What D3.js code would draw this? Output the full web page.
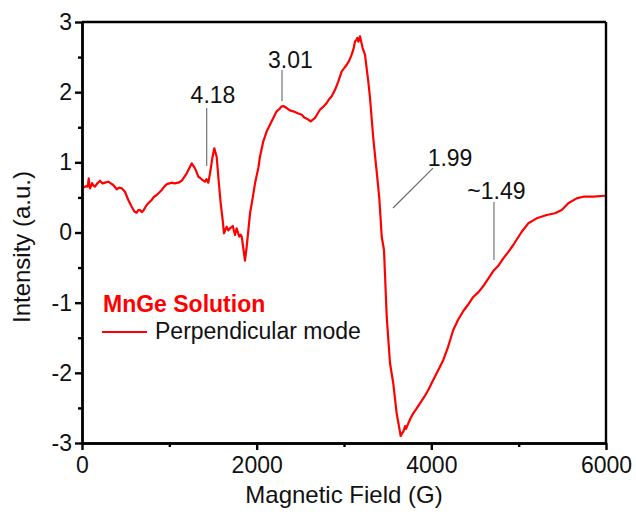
<!DOCTYPE html>
<html>
<head>
<meta charset="utf-8">
<script src="https://cdn.jsdelivr.net/npm/d3@7"></script>
<style>
  html, body { margin: 0; padding: 0; background: #fff; }
  svg { display: block; font-family: "Liberation Sans", Arial, sans-serif; }
</style>
</head>
<body>
<svg id="chart" width="636" height="516"></svg>
<script>
// EPR spectrum, MnGe solution, perpendicular mode
const fieldG = [
  5, 23, 45, 61, 70, 77, 84, 92, 115, 130, 149, 175, 206, 235, 263, 301, 330, 358, 397, 425,
  455, 492, 530, 569, 600, 626, 645, 664, 685, 702, 741, 770, 798, 825, 855, 885, 913, 940, 970, 1000,
  1027, 1060, 1103, 1142, 1170, 1199, 1230, 1256, 1275, 1294, 1332, 1350, 1371, 1390, 1408, 1425, 1446, 1466, 1492, 1515,
  1542, 1561, 1588, 1611, 1626, 1657, 1675, 1695, 1726, 1752, 1771, 1801, 1815, 1829, 1855, 1866, 1886, 1924, 1961, 1981,
  2019, 2038, 2076, 2115, 2172, 2229, 2260, 2287, 2310, 2344, 2380, 2419, 2470, 2516, 2545, 2573, 2619, 2668, 2700, 2725,
  2760, 2802, 2830, 2859, 2900, 2935, 2974, 3000, 3031, 3060, 3088, 3110, 3126, 3140, 3152, 3165, 3183, 3200, 3214, 3240,
  3278, 3298, 3335, 3374, 3404, 3432, 3458, 3489, 3527, 3564, 3603, 3649, 3665, 3679, 3700, 3710, 3736, 3765, 3793, 3830,
  3870, 3920, 3965, 4010, 4061, 4100, 4137, 4191, 4251, 4305, 4366, 4420, 4480, 4540, 4595, 4650, 4709, 4770, 4824, 4880,
  4938, 5035, 5110, 5206, 5321, 5416, 5493, 5568, 5664, 5740, 5855, 5988, 6000
];
const intensity = [
  0.65, 0.644, 0.66, 0.653, 0.70, 0.772, 0.66, 0.630, 0.705, 0.67, 0.653, 0.70, 0.738, 0.70, 0.710, 0.724, 0.70, 0.677, 0.616, 0.64,
  0.630, 0.581, 0.463, 0.368, 0.30, 0.282, 0.32, 0.321, 0.29, 0.311, 0.392, 0.43, 0.463, 0.51, 0.534, 0.57, 0.606, 0.65, 0.687, 0.70,
  0.710, 0.70, 0.710, 0.738, 0.79, 0.844, 0.92, 0.986, 0.95, 0.915, 0.795, 0.78, 0.758, 0.74, 0.724, 0.76, 0.710, 0.844, 1.057, 1.200,
  1.080, 0.795, 0.416, 0.178, -0.011, 0.083, 0.03, 0.060, 0.093, -0.036, 0.060, -0.060, -0.03, -0.060, -0.296, -0.402, -0.202, 0.274, 0.539, 0.701,
  0.919, 1.080, 1.300, 1.442, 1.585, 1.727, 1.76, 1.798, 1.80, 1.774, 1.74, 1.727, 1.70, 1.679, 1.64, 1.622, 1.585, 1.632, 1.70, 1.750,
  1.79, 1.846, 1.90, 1.941, 2.04, 2.155, 2.297, 2.34, 2.391, 2.45, 2.534, 2.62, 2.725, 2.74, 2.772, 2.72, 2.796, 2.70, 2.629, 2.534,
  2.155, 1.917, 1.347, 0.872, 0.492, -0.060, -0.249, -1.200, -1.864, -2.149, -2.577, -2.900, -2.86, -2.839, -2.76, -2.80, -2.719, -2.64, -2.577, -2.51,
  -2.434, -2.34, -2.245, -2.13, -2.007, -1.91, -1.817, -1.632, -1.389, -1.247, -1.119, -1.03, -0.919, -0.85, -0.763, -0.66, -0.549, -0.47, -0.368, -0.28,
  -0.178, 0.011, 0.131, 0.202, 0.249, 0.274, 0.321, 0.416, 0.487, 0.510, 0.510, 0.524, 0.525
];

const xTicks = [0, 2000, 4000, 6000];
const xMinorTicks = [1000, 3000, 5000];
const yTicks = [-3, -2, -1, 0, 1, 2, 3];
const yMinorTicks = [-2.5, -1.5, -0.5, 0.5, 1.5, 2.5];

// g-value annotations: label, label anchor (G, a.u.), leader line ends (G, a.u.)
const gLabels = ["4.18", "3.01", "1.99", "~1.49"];
const gLabelPos = [[1500, 1.845], [2387, 2.344], [4214, 0.948], [4745, 0.477]];
const gLeaders = [
  [[1428, 1.774], [1428, 0.948]],
  [[2290, 2.316], [2290, 1.874]],
  [[4019, 0.919], [3561, 0.349]],
  [[4717, 0.435], [4717, -0.392]]
];

const legendTitle = "MnGe Solution";
const legendSeries = "Perpendicular mode";

const svg = d3.select("#chart");
const margin = { left: 82, top: 22, right: 30, bottom: 73 };
const W = 636, H = 516;
const x = d3.scaleLinear().domain([0, 6000]).range([margin.left, W - margin.right]);
const y = d3.scaleLinear().domain([-3, 3]).range([H - margin.bottom, margin.top]);

const fontSize = 23;
const axisStroke = 2.4;
const plainInt = d => String(d);   // hyphen-minus, as in the original plot

// spectrum
const pts = fieldG.map((g, i) => [g, intensity[i]]);
svg.append("path")
  .datum(pts)
  .attr("fill", "none")
  .attr("stroke", "#ff0000")
  .attr("stroke-width", 2.2)
  .attr("stroke-linejoin", "round")
  .attr("d", d3.line().x(d => x(d[0])).y(d => y(d[1])));

// frame (top and right)
svg.append("line")
  .attr("x1", x(0)).attr("x2", x(6000)).attr("y1", y(3)).attr("y2", y(3))
  .attr("stroke", "#000").attr("stroke-width", axisStroke);
svg.append("line")
  .attr("x1", x(6000)).attr("x2", x(6000)).attr("y1", y(3)).attr("y2", y(-3))
  .attr("stroke", "#000").attr("stroke-width", axisStroke);

// bottom axis: minor and major ticks in separate groups
svg.append("g").attr("class", "minor").attr("transform", `translate(0,${y(-3)})`)
  .call(d3.axisBottom(x).tickValues(xMinorTicks).tickSize(4).tickSizeOuter(0).tickFormat(""));
svg.append("g").attr("class", "major").attr("transform", `translate(0,${y(-3)})`)
  .call(d3.axisBottom(x).tickValues(xTicks).tickSize(7).tickSizeOuter(0).tickPadding(7).tickFormat(plainInt));

// left axis
svg.append("g").attr("class", "minor").attr("transform", `translate(${x(0)},0)`)
  .call(d3.axisLeft(y).tickValues(yMinorTicks).tickSize(4).tickSizeOuter(0).tickFormat(""));
svg.append("g").attr("class", "major").attr("transform", `translate(${x(0)},0)`)
  .call(d3.axisLeft(y).tickValues(yTicks).tickSize(7).tickSizeOuter(0).tickPadding(3).tickFormat(plainInt));

svg.selectAll(".domain").attr("stroke", "#000").attr("stroke-width", axisStroke);
svg.selectAll(".tick line").attr("stroke", "#000").attr("stroke-width", axisStroke);
svg.selectAll(".tick text")
  .attr("font-family", "Liberation Sans, Arial, sans-serif")
  .attr("font-size", fontSize)
  .attr("fill", "#111");

// axis titles
svg.append("text")
  .attr("x", (x(0) + x(6000)) / 2)
  .attr("y", 503)
  .attr("text-anchor", "middle")
  .attr("font-size", 24)
  .attr("fill", "#111")
  .text("Magnetic Field (G)");
svg.append("text")
  .attr("transform", `translate(30,${247}) rotate(-90)`)
  .attr("text-anchor", "middle")
  .attr("font-size", 24)
  .attr("fill", "#111")
  .text("Intensity (a.u.)");

// g-value leaders and labels
gLeaders.forEach(seg => {
  svg.append("line")
    .attr("x1", x(seg[0][0])).attr("y1", y(seg[0][1]))
    .attr("x2", x(seg[1][0])).attr("y2", y(seg[1][1]))
    .attr("stroke", "#666").attr("stroke-width", 1.1);
});
gLabels.forEach((t, i) => {
  svg.append("text")
    .attr("x", x(gLabelPos[i][0]))
    .attr("y", y(gLabelPos[i][1]))
    .attr("text-anchor", "middle")
    .attr("font-size", fontSize)
    .attr("fill", "#111")
    .text(t);
});

// legend
svg.append("text")
  .attr("x", 103).attr("y", 312)
  .attr("font-size", fontSize)
  .attr("font-weight", "bold")
  .attr("fill", "#ff0000")
  .text(legendTitle);
svg.append("line")
  .attr("x1", 102).attr("x2", 147).attr("y1", 332).attr("y2", 332)
  .attr("stroke", "#ff0000").attr("stroke-width", 2.2);
svg.append("text")
  .attr("x", 155).attr("y", 339)
  .attr("font-size", fontSize)
  .attr("fill", "#111")
  .text(legendSeries);
</script>
</body>
</html>
